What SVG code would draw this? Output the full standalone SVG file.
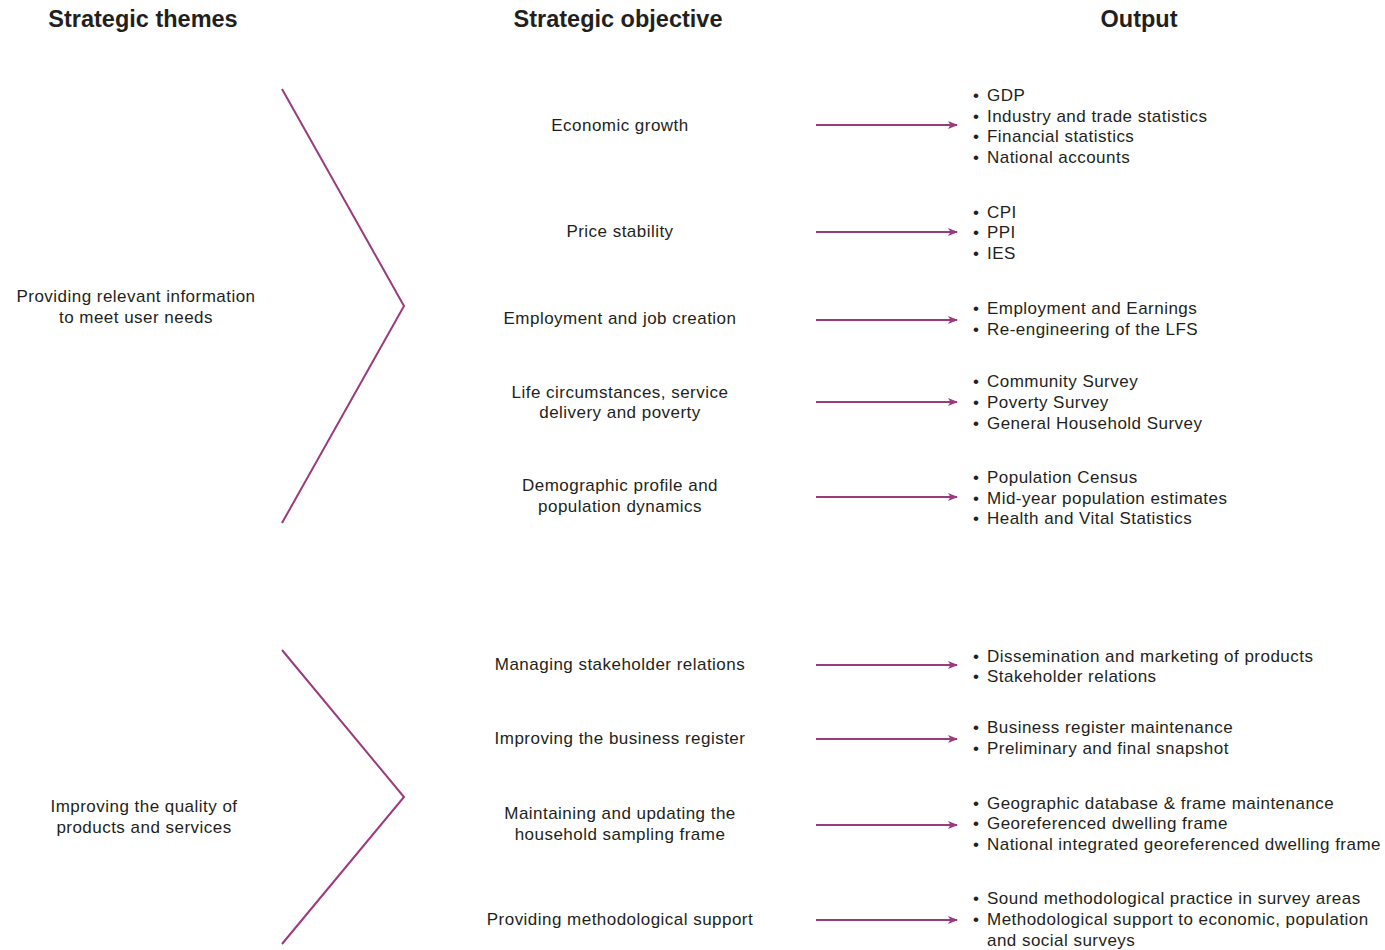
<svg xmlns="http://www.w3.org/2000/svg" width="1385" height="950" viewBox="0 0 1385 950">
<defs>
<style>
.h{font-family:"Liberation Sans",Arial,sans-serif;font-weight:bold;font-size:23.5px;fill:#231f20;text-anchor:middle}
.t{font-family:"Liberation Sans",Arial,sans-serif;font-size:17px;fill:#231f20;letter-spacing:0.47px}
.c{text-anchor:middle}
.ln{stroke:#9b3a7d;stroke-width:2;fill:none}
.ar{stroke:#9b3a7d;stroke-width:2;fill:none;marker-end:url(#ah)}
</style>
<marker id="ah" markerWidth="10" markerHeight="8" refX="9" refY="4" orient="auto" markerUnits="userSpaceOnUse">
<path d="M0,0 L10,4 L0,8 L2.5,4 Z" fill="#9b3a7d"/>
</marker>
</defs>
<rect width="1385" height="950" fill="#fff"/>
<g id="headers">
<text class="h" x="143" y="27">Strategic themes</text>
<text class="h" x="618" y="27">Strategic objective</text>
<text class="h" x="1139" y="27">Output</text>
</g>
<g id="theme1">
<polyline class="ln" points="282,89 404,306 282,523"/>
<text class="t c" x="136" y="302">Providing relevant information</text>
<text class="t c" x="136" y="323">to meet user needs</text>
</g>
<g id="theme2">
<polyline class="ln" points="282,650 404,797 282,944"/>
<text class="t c" x="144" y="812">Improving the quality of</text>
<text class="t c" x="144" y="833">products and services</text>
</g>
<g id="objectives">
<text class="t c" x="620" y="131">Economic growth</text>
<text class="t c" x="620" y="237">Price stability</text>
<text class="t c" x="620" y="324">Employment and job creation</text>
<text class="t c" x="620" y="398">Life circumstances, service</text>
<text class="t c" x="620" y="418">delivery and poverty</text>
<text class="t c" x="620" y="491">Demographic profile and</text>
<text class="t c" x="620" y="512">population dynamics</text>
<text class="t c" x="620" y="670">Managing stakeholder relations</text>
<text class="t c" x="620" y="744">Improving the business register</text>
<text class="t c" x="620" y="819">Maintaining and updating the</text>
<text class="t c" x="620" y="840">household sampling frame</text>
<text class="t c" x="620" y="925">Providing methodological support</text>
</g>
<g id="connectors">
<line class="ar" x1="816" y1="125" x2="957" y2="125"/>
<line class="ar" x1="816" y1="232" x2="957" y2="232"/>
<line class="ar" x1="816" y1="320" x2="957" y2="320"/>
<line class="ar" x1="816" y1="402" x2="957" y2="402"/>
<line class="ar" x1="816" y1="497" x2="957" y2="497"/>
<line class="ar" x1="816" y1="665" x2="957" y2="665"/>
<line class="ar" x1="816" y1="739" x2="957" y2="739"/>
<line class="ar" x1="816" y1="825" x2="957" y2="825"/>
<line class="ar" x1="816" y1="920" x2="957" y2="920"/>
</g>
<g id="outputs">
<text class="t" x="973" y="101">•<tspan x="987">GDP</tspan></text>
<text class="t" x="973" y="122">•<tspan x="987">Industry and trade statistics</tspan></text>
<text class="t" x="973" y="142">•<tspan x="987">Financial statistics</tspan></text>
<text class="t" x="973" y="163">•<tspan x="987">National accounts</tspan></text>
<text class="t" x="973" y="218">•<tspan x="987">CPI</tspan></text>
<text class="t" x="973" y="238">•<tspan x="987">PPI</tspan></text>
<text class="t" x="973" y="259">•<tspan x="987">IES</tspan></text>
<text class="t" x="973" y="314">•<tspan x="987">Employment and Earnings</tspan></text>
<text class="t" x="973" y="335">•<tspan x="987">Re-engineering of the LFS</tspan></text>
<text class="t" x="973" y="387">•<tspan x="987">Community Survey</tspan></text>
<text class="t" x="973" y="408">•<tspan x="987">Poverty Survey</tspan></text>
<text class="t" x="973" y="429">•<tspan x="987">General Household Survey</tspan></text>
<text class="t" x="973" y="483">•<tspan x="987">Population Census</tspan></text>
<text class="t" x="973" y="504">•<tspan x="987">Mid-year population estimates</tspan></text>
<text class="t" x="973" y="524">•<tspan x="987">Health and Vital Statistics</tspan></text>
<text class="t" x="973" y="662">•<tspan x="987">Dissemination and marketing of products</tspan></text>
<text class="t" x="973" y="682">•<tspan x="987">Stakeholder relations</tspan></text>
<text class="t" x="973" y="733">•<tspan x="987">Business register maintenance</tspan></text>
<text class="t" x="973" y="754">•<tspan x="987">Preliminary and final snapshot</tspan></text>
<text class="t" x="973" y="809">•<tspan x="987">Geographic database &amp; frame maintenance</tspan></text>
<text class="t" x="973" y="829">•<tspan x="987">Georeferenced dwelling frame</tspan></text>
<text class="t" x="973" y="850">•<tspan x="987">National integrated georeferenced dwelling frame</tspan></text>
<text class="t" x="973" y="904">•<tspan x="987">Sound methodological practice in survey areas</tspan></text>
<text class="t" x="973" y="925">•<tspan x="987">Methodological support to economic, population</tspan></text>
<text class="t" x="987" y="946">and social surveys</text>
</g>
</svg>
